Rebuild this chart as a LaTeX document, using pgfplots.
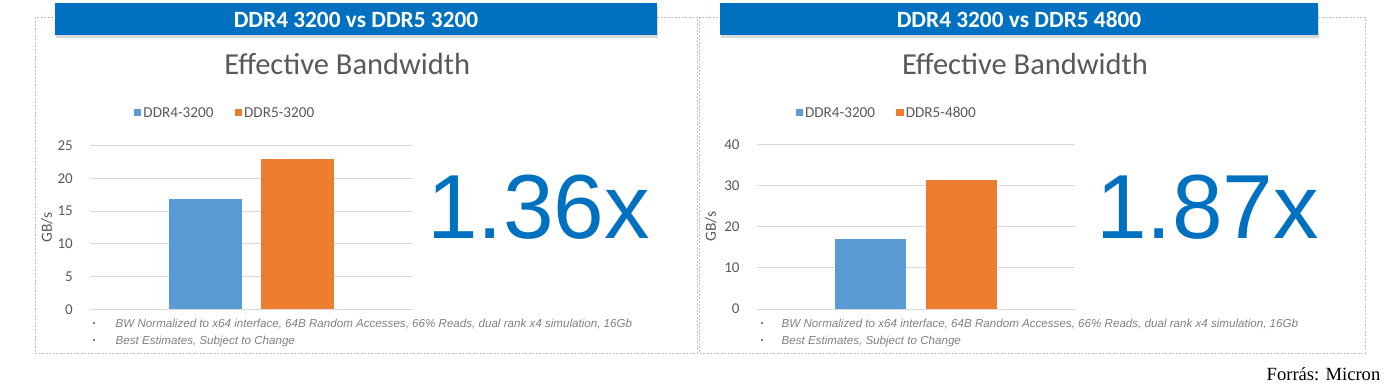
\documentclass[border=0pt]{standalone}
\usepackage{pgfplots}
\pgfplotsset{compat=1.18}
\usepackage{fontspec}
\setmainfont{Carlito}
\newfontfamily\arialfont{Liberation Sans}
\newfontfamily\timesfont{Liberation Serif}
\usetikzlibrary{shadows}
\definecolor{hdrblue}{RGB}{0,112,192}
\definecolor{barblue}{RGB}{91,155,213}
\definecolor{barorange}{RGB}{237,125,49}
\definecolor{txtgray}{RGB}{89,89,89}
\definecolor{gridgray}{RGB}{217,217,217}
\definecolor{notegray}{RGB}{128,128,128}
\definecolor{boxgray}{RGB}{190,190,190}

\pgfplotsset{
  excelbar/.style={
    scale only axis,
    xmin=-1.755, xmax=1.755, ymin=0,
    xtick=\empty,
    axis line style={draw=none},
    major tick length=0pt,
    ymajorgrids,
    grid style={gridgray, line width=1bp},
    /pgf/number format/assume math mode=true,
    yticklabel style={font=\fontsize{15bp}{17bp}\selectfont, text=txtgray, inner xsep=0pt, xshift=-17bp},
    ylabel={GB/s},
    ylabel style={font=\fontsize{15.5bp}{17bp}\selectfont, text=txtgray, anchor=center},
    legend columns=2,
    legend cell align=left,
    legend style={draw=none, fill=none, inner sep=0pt, anchor=west,
      font=\fontsize{15.2bp}{17bp}\selectfont, text=txtgray,
      nodes={inner xsep=2.2bp, inner ysep=0pt},
      /tikz/every even column/.append style={column sep=19bp}},
    legend image code/.code={\fill (0bp,-3.6bp) rectangle (7.2bp,3.6bp);},
  }
}

\begin{document}
\begin{tikzpicture}[x=1bp,y=1bp]
\path[use as bounding box] (0,0) rectangle (1396,391);

% dashed panels
\draw[boxgray, line width=1bp, dash pattern=on 2bp off 1.5bp] (35,373.7) rectangle (697,37.7);
\draw[boxgray, line width=1bp, dash pattern=on 2bp off 1.5bp] (699.5,373.7) rectangle (1365,37.7);

% headers
\fill[hdrblue, drop shadow={shadow xshift=1bp, shadow yshift=-3bp, opacity=0.3}] (55,387.5) rectangle (657,356.5);
\fill[hdrblue, drop shadow={shadow xshift=1bp, shadow yshift=-3bp, opacity=0.3}] (720,387.5) rectangle (1318,356.5);
\node[text=white, font=\bfseries\fontsize{23.3bp}{26bp}\selectfont, inner sep=0pt, anchor=center] at (356,371.5) {DDR4 3200 vs DDR5 3200};
\node[text=white, font=\bfseries\fontsize{23.3bp}{26bp}\selectfont, inner sep=0pt, anchor=center] at (1019,371.5) {DDR4 3200 vs DDR5 4800};

% titles
\node[text=txtgray, font=\fontsize{30.5bp}{34bp}\selectfont, inner sep=0pt, anchor=base] at (347.3,317) {Effective Bandwidth};
\node[text=txtgray, font=\fontsize{30.5bp}{34bp}\selectfont, inner sep=0pt, anchor=base] at (1025,317) {Effective Bandwidth};

% left chart
\begin{axis}[excelbar,
  at={(90bp,81.7bp)}, anchor=south west,
  width=323bp, height=163.6bp,
  ymax=25, ytick={0,5,...,25},
  ylabel style={at={(axis description cs:-0.134,0.5)}},
  legend style={at={(axis description cs:0.1356,1.201)}},
]
\addplot[ybar, bar width=0.783, bar shift=0pt, fill=barblue, draw=none] coordinates {(-0.5,16.8)};
\addlegendentry{DDR4-3200}
\addplot[ybar, bar width=0.783, bar shift=0pt, fill=barorange, draw=none] coordinates {(0.5,22.9)};
\addlegendentry{DDR5-3200}
\end{axis}

% right chart
\begin{axis}[excelbar,
  at={(756.7bp,82bp)}, anchor=south west,
  width=318.3bp, height=164.7bp,
  ymax=40, ytick={0,10,...,40},
  ylabel style={at={(axis description cs:-0.1443,0.5)}},
  legend style={at={(axis description cs:0.1216,1.191)}},
]
\addplot[ybar, bar width=0.783, bar shift=0pt, fill=barblue, draw=none] coordinates {(-0.5,16.9)};
\addlegendentry{DDR4-3200}
\addplot[ybar, bar width=0.783, bar shift=0pt, fill=barorange, draw=none] coordinates {(0.5,31.4)};
\addlegendentry{DDR5-4800}
\end{axis}

% big ratios
\node[text=hdrblue, font=\arialfont\fontsize{91bp}{100bp}\selectfont, inner sep=0pt, anchor=base west] at (427,152.5) {1.36x};
\node[text=hdrblue, font=\arialfont\fontsize{91bp}{100bp}\selectfont, inner sep=0pt, anchor=base west] at (1096,153) {1.87x};

% footnotes
\foreach \bx/\tx in {94.3/115.5, 762/781.5} {
  \fill[notegray] (\bx-1,67.5) rectangle (\bx+1,69.5);
  \fill[notegray] (\bx-1,50.5) rectangle (\bx+1,52.5);
  \node[text=notegray, font=\arialfont\itshape\fontsize{11.6bp}{14bp}\selectfont, inner sep=0pt, anchor=base west] at (\tx,63.5) {BW Normalized to x64 interface, 64B Random Accesses, 66\% Reads, dual rank x4 simulation, 16Gb};
  \node[text=notegray, font=\arialfont\itshape\fontsize{11.6bp}{14bp}\selectfont, inner sep=0pt, anchor=base west] at (\tx,47) {Best Estimates, Subject to Change};
}

% source
\node[text=black, font=\timesfont\fontsize{18.6bp}{22bp}\selectfont, inner sep=0pt, anchor=base east] at (1380.5,11) {Forrás: Micron};
\end{tikzpicture}
\end{document}
